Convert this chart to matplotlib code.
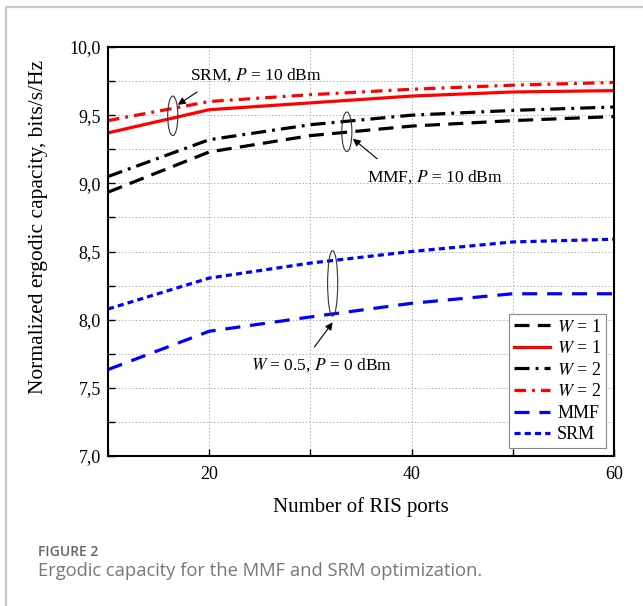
import matplotlib
matplotlib.use("Agg")
import matplotlib.pyplot as plt
from matplotlib.patches import Ellipse, Rectangle
from matplotlib.ticker import MultipleLocator, FuncFormatter
from matplotlib.lines import Line2D

plt.rcParams['font.family'] = ['Liberation Serif', 'DejaVu Serif']
plt.rcParams['mathtext.fontset'] = 'stix'

ports = [10, 20, 30, 40, 50, 60]
mmf_w1 = [8.935, 9.23, 9.35, 9.42, 9.46, 9.49]
srm_w1 = [9.37, 9.54, 9.59, 9.64, 9.67, 9.68]
mmf_w2 = [9.05, 9.32, 9.43, 9.50, 9.535, 9.56]
srm_w2 = [9.46, 9.60, 9.65, 9.69, 9.72, 9.74]
mmf_low = [7.634, 7.915, 8.02, 8.12, 8.19, 8.19]
srm_low = [8.078, 8.305, 8.415, 8.50, 8.57, 8.59]

legend_labels = ['$W$ = 1', '$W$ = 1', '$W$ = 2', '$W$ = 2', 'MMF', 'SRM']

fig = plt.figure(figsize=(6.43, 6.06), dpi=100)

# card frame
fig.patches.append(Rectangle((6/643, -0.05), 1.2, 1 - 7/606 + 0.05, transform=fig.transFigure,
                             fill=False, edgecolor='#c8c8c8', linewidth=1.6))

ax = fig.add_axes([108/643, 1 - 456/606, (614-108)/643, (456-47)/606])

lw = 2.3
st_mmf1 = dict(color='black', dashes=(4.7, 2.6))
st_srm1 = dict(color='#ff0000', linestyle='-')
st_mmf2 = dict(color='black', dashes=(4.7, 1.9, 0.9, 1.9))
st_srm2 = dict(color='#ff0000', dashes=(3.6, 1.9, 0.9, 1.9))
st_mmfl = dict(color='#0000ff', dashes=(4.7, 3.1))
st_srml = dict(color='#0000ff', dashes=(1.9, 1.3))

ax.plot(ports, mmf_w1, lw=lw, **st_mmf1)
ax.plot(ports, srm_w1, lw=lw, **st_srm1)
ax.plot(ports, mmf_w2, lw=lw, **st_mmf2)
ax.plot(ports, srm_w2, lw=lw, **st_srm2)
ax.plot(ports, mmf_low, lw=lw, **st_mmfl)
ax.plot(ports, srm_low, lw=lw, **st_srml)

ax.set_xlim(10, 60)
ax.set_ylim(7.0, 10.0)
ax.xaxis.set_major_locator(MultipleLocator(20))
ax.xaxis.set_minor_locator(MultipleLocator(10))
ax.yaxis.set_major_locator(MultipleLocator(0.5))
ax.yaxis.set_minor_locator(MultipleLocator(0.25))
ax.yaxis.set_major_formatter(FuncFormatter(lambda v, p: f"{v:.1f}".replace('.', ',')))
ax.tick_params(which='both', direction='in', top=False, right=False, labelsize=13)
ax.tick_params(which='major', length=5, width=1)
ax.tick_params(which='minor', length=5, width=1)
ax.tick_params(axis='x', pad=7)
ax.tick_params(axis='y', pad=5)
ax.grid(True, which='both', linestyle=(0, (1.5, 2)), color='#b0b0b0', linewidth=0.7)
for s in ax.spines.values():
    s.set_linewidth(1.5)

ax.set_xlabel('Number of RIS ports', fontsize=15, labelpad=10)
ax.set_ylabel('Normalized ergodic capacity, bits/s/Hz', fontsize=15.5)
ax.yaxis.set_label_coords(-0.118, 0.56)

# ellipses
for (cx, cy, h) in [(16.4, 9.495, 0.29), (33.6, 9.378, 0.29), (32.2, 8.266, 0.48)]:
    ax.add_patch(Ellipse((cx, cy), 1.0, h, fill=False, edgecolor='#333333', lw=0.8, zorder=5))

ap = dict(arrowstyle='-|>', color='black', lw=0.8, mutation_scale=11, shrinkA=0, shrinkB=0)
ax.annotate('', xy=(16.9, 9.576), xytext=(18.8, 9.67), arrowprops=ap)
ax.annotate('', xy=(34.2, 9.327), xytext=(36.6, 9.18), arrowprops=ap)
ax.annotate('', xy=(32.2, 7.98), xytext=(30.4, 7.80), arrowprops=ap)

ax.text(24.6, 9.795, 'SRM, $P$ = 10 dBm', fontsize=12.5, ha='center', va='center')
ax.text(42.3, 9.049, 'MMF, $P$ = 10 dBm', fontsize=12.5, ha='center', va='center')
ax.text(31.1, 7.667, '$W$ = 0.5, $P$ = 0 dBm', fontsize=12.5, ha='center', va='center')

handles = [Line2D([], [], lw=lw, **s) for s in (st_mmf1, st_srm1, st_mmf2, st_srm2, st_mmfl, st_srml)]
leg = ax.legend(handles, legend_labels, loc='lower right', fontsize=13, fancybox=False,
                edgecolor='#888888', framealpha=1, handlelength=2.0, handletextpad=0.4,
                labelspacing=0.25, borderpad=0.25, borderaxespad=0.45)
leg.get_frame().set_linewidth(0.8)

fig.text(38/643, 1 - 552/606, 'FIGURE 2', fontsize=10, color='#666666', fontweight='semibold',
         family=['Open Sans', 'DejaVu Sans'], va='center')
fig.text(38/643, 1 - 571/606, 'Ergodic capacity for the MMF and SRM optimization.', fontsize=13.2,
         color='#777777', family=['Open Sans', 'DejaVu Sans'], va='center')

fig.savefig('out.png', dpi=100)
